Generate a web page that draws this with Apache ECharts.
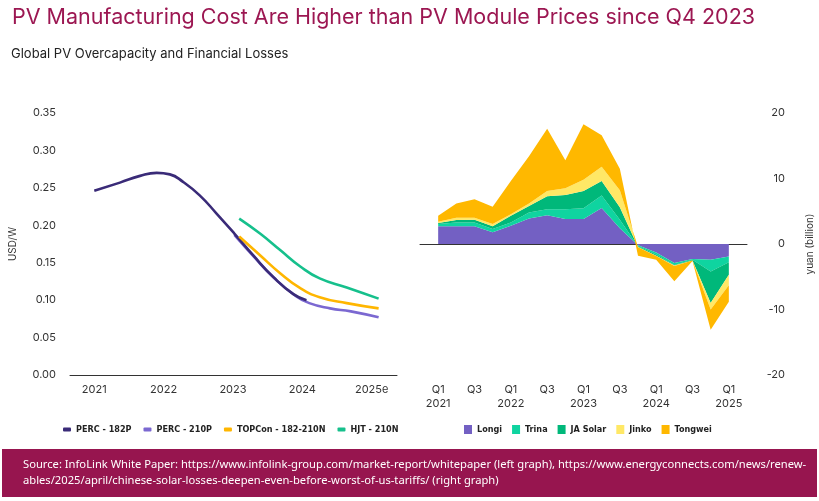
<!DOCTYPE html>
<html>
<head>
<meta charset="utf-8">
<script src="https://cdn.jsdelivr.net/npm/echarts@6/dist/echarts.min.js"></script>
<style>
html, body { margin: 0; padding: 0; background: #fff; }
#chart { width: 819px; height: 501px; }
</style>
</head>
<body>
<div id="chart"></div>
<script>
// left graph: module cost, USD/W (x = year, y = value)
var perc182Years = [2021.0, 2021.37, 2021.66, 2021.9, 2022.09, 2022.28, 2022.52, 2022.76, 2023.02, 2023.29, 2023.58, 2023.87, 2024.06];
var perc182Values = [0.246, 0.257, 0.266, 0.270, 0.268, 0.258, 0.240, 0.216, 0.189, 0.160, 0.131, 0.108, 0.100];
var perc210Years = [2023.02, 2023.3, 2023.6, 2023.9, 2024.1, 2024.4, 2024.7, 2025.1];
var perc210Values = [0.187, 0.158, 0.129, 0.106, 0.096, 0.089, 0.085, 0.077];
var topconYears = [2023.09, 2023.39, 2023.68, 2023.97, 2024.25, 2024.64, 2025.1];
var topconValues = [0.185, 0.160, 0.136, 0.116, 0.104, 0.096, 0.089];
var hjtYears = [2023.09, 2023.39, 2023.68, 2023.97, 2024.25, 2024.64, 2025.1];
var hjtValues = [0.209, 0.189, 0.167, 0.145, 0.129, 0.117, 0.102];
var yearTicks = [2021, 2022, 2023, 2024, 2025];
var yearLabels = ['2021', '2022', '2023', '2024', '2025e'];

// right graph: quarterly net profit, yuan (billion)
var quarters = ['Q1\n2021', 'Q2', 'Q3', 'Q4', 'Q1\n2022', 'Q2', 'Q3', 'Q4', 'Q1\n2023', 'Q2', 'Q3', 'Q4', 'Q1\n2024', 'Q2', 'Q3', 'Q4', 'Q1\n2025'];
var longi = [2.7, 2.7, 2.7, 1.8, 2.8, 3.9, 4.4, 3.8, 3.8, 5.5, 2.4, -0.2, -1.3, -2.9, -2.3, -2.4, -1.9];
var trina = [0.35, 0.6, 0.6, 0.5, 0.5, 0.9, 0.9, 1.5, 1.65, 1.9, 1.3, -0.15, -0.3, -0.3, -0.1, -1.8, -0.9];
var jaSolar = [0.15, 0.35, 0.4, 0.4, 1.0, 1.0, 2.0, 2.2, 2.65, 2.2, 1.9, -0.1, -0.2, -0.1, -0.1, -4.8, -1.9];
var jinko = [0.2, 0.35, 0.3, 0.35, 0.25, 0.4, 0.8, 1.0, 1.7, 2.2, 2.6, -0.05, -0.05, -0.05, 0, -1.0, -1.6];
var tongwei = [0.9, 2.2, 2.85, 2.65, 5.05, 7.2, 9.5, 4.3, 8.5, 4.8, 3.3, -1.3, -0.55, -2.35, -0.1, -3.1, -2.5];

function pairs(xs, ys) {
    var out = [];
    for (var i = 0; i < xs.length; i++) out.push([xs[i], ys[i]]);
    return out;
}

// one empty slot each side so the axis line runs past the first and last quarter
function padded(arr, fill) {
    return [fill].concat(arr).concat([fill]);
}

var axisText = { color: '#333', fontSize: 11, fontFamily: 'Inter, Roboto, sans-serif' };

function lineSeries(name, xs, ys, color) {
    return {
        name: name, type: 'line', xAxisIndex: 0, yAxisIndex: 0,
        data: pairs(xs, ys), smooth: true, showSymbol: false,
        lineStyle: { color: color, width: 2.6 }, itemStyle: { color: color }
    };
}

function areaSeries(name, values, color) {
    return {
        name: name, type: 'line', xAxisIndex: 1, yAxisIndex: 1,
        stack: 'profit', stackStrategy: 'all', data: padded(values, null),
        showSymbol: false, lineStyle: { width: 0 },
        areaStyle: { color: color, opacity: 1 }, itemStyle: { color: color }
    };
}

var chart = echarts.init(document.getElementById('chart'));
var legendText = { color: '#222', fontSize: 9, fontWeight: 'bold', fontFamily: '"DejaVu Sans Condensed", "Liberation Sans Narrow", Roboto, sans-serif' };

chart.setOption({
    animation: false,
    backgroundColor: '#fff',
    title: [
        { text: 'PV Manufacturing Cost Are Higher than PV Module Prices since Q4 2023', left: 7, top: 2,
          textStyle: { color: '#9c1752', fontSize: 21.5, fontWeight: 'normal', fontFamily: 'Inter, sans-serif' } },
        { text: 'Global PV Overcapacity and Financial Losses', left: 6, top: 43,
          textStyle: { color: '#222', fontSize: 13, fontWeight: 'normal', fontFamily: 'Inter, sans-serif' } }
    ],
    legend: [
        { data: ['PERC - 182P', 'PERC - 210P', 'TOPCon - 182-210N', 'HJT - 210N'], left: 58, top: 420,
          icon: 'roundRect', itemWidth: 8, itemHeight: 4, itemGap: 12, textStyle: legendText },
        { data: ['Longi', 'Trina', 'JA Solar', 'Jinko', 'Tongwei'], left: 459, top: 420,
          icon: 'rect', itemWidth: 8, itemHeight: 9, itemGap: 10, textStyle: legendText }
    ],
    grid: [
        { left: 70, top: 113, width: 327, height: 262 },
        { left: 420, top: 113, width: 327, height: 262 }
    ],
    xAxis: [
        { type: 'value', gridIndex: 0, min: 2020.65, max: 2025.365,
          axisLine: { lineStyle: { color: '#333', width: 1 } }, axisTick: { show: false }, splitLine: { show: false },
          axisLabel: Object.assign({ customValues: yearTicks, margin: 9,
              formatter: function (v) { return yearLabels[yearTicks.indexOf(Math.round(v))]; } }, axisText) },
        { type: 'category', gridIndex: 1, data: padded(quarters, ''), boundaryGap: false,
          axisLine: { lineStyle: { color: '#333', width: 1 } }, axisTick: { show: false }, splitLine: { show: false },
          axisLabel: Object.assign({ interval: 0, margin: 8, lineHeight: 14,
              formatter: function (v) { return (v.indexOf('Q1') === 0 || v === 'Q3') ? v : ''; } }, axisText) }
    ],
    yAxis: [
        { type: 'value', gridIndex: 0, min: 0, max: 0.35, interval: 0.05,
          name: 'USD/W', nameLocation: 'middle', nameRotate: 90, nameGap: 52,
          nameTextStyle: { color: '#333', fontSize: 10, fontFamily: 'Inter, sans-serif' },
          axisLine: { show: false }, axisTick: { show: false }, splitLine: { show: false },
          axisLabel: Object.assign({ margin: 14, formatter: function (v) { return v.toFixed(2); } }, axisText) },
        { type: 'value', gridIndex: 1, min: -20, max: 20, interval: 10, position: 'right',
          name: 'yuan (billion)', nameLocation: 'middle', nameRotate: 90, nameGap: 58,
          nameTextStyle: { color: '#333', fontSize: 10, fontFamily: 'Inter, sans-serif' },
          axisLine: { show: false }, axisTick: { show: false }, splitLine: { show: false },
          axisLabel: Object.assign({ margin: 38, align: 'right' }, axisText) }
    ],
    series: [
        lineSeries('PERC - 210P', perc210Years, perc210Values, '#7b68d1'),
        lineSeries('PERC - 182P', perc182Years, perc182Values, '#3a2b78'),
        lineSeries('TOPCon - 182-210N', topconYears, topconValues, '#ffb600'),
        lineSeries('HJT - 210N', hjtYears, hjtValues, '#16c08c'),
        areaSeries('Longi', longi, '#7360c3'),
        areaSeries('Trina', trina, '#0fd4a0'),
        areaSeries('JA Solar', jaSolar, '#00b87a'),
        areaSeries('Jinko', jinko, '#ffe866'),
        areaSeries('Tongwei', tongwei, '#ffb800')
    ],
    graphic: [
        { type: 'rect', left: 2, top: 449, shape: { width: 815, height: 48 }, style: { fill: '#97154f' } },
        { type: 'text', left: 23, top: 457, style: {
            text: 'Source: InfoLink White Paper: https://www.infolink-group.com/market-report/whitepaper (left graph), https://www.energyconnects.com/news/renew-\nables/2025/april/chinese-solar-losses-deepen-even-before-worst-of-us-tariffs/ (right graph)',
            fill: '#fff', fontSize: 11.2, lineHeight: 16, fontFamily: '"Noto Sans", sans-serif' } }
    ]
});
</script>
</body>
</html>
